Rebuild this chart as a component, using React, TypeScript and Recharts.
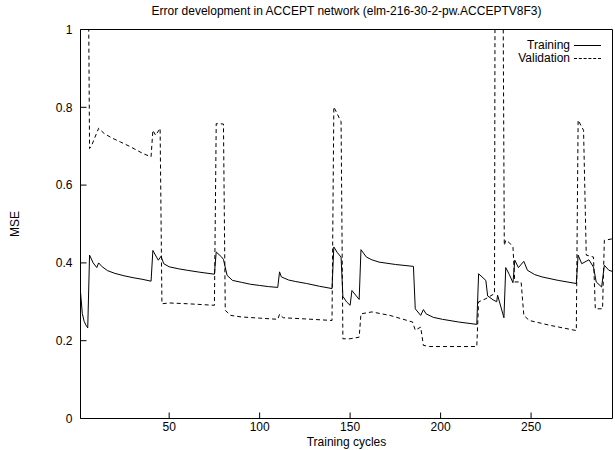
import React from 'react';
import { LineChart, Line, XAxis, YAxis, Legend } from 'recharts';

const TITLE = 'Error development in ACCEPT network (elm-216-30-2-pw.ACCEPTV8F3)';
const X_TICKS = [50, 100, 150, 200, 250];
const Y_TICKS = [0, 0.2, 0.4, 0.6, 0.8, 1];

const trainX = [1, 2, 3, 4, 5, 6, 8, 10, 11, 13, 16, 20, 25, 30, 35, 40, 41, 43, 44, 45.5, 47, 50, 55, 60, 67, 75, 76, 79, 80, 82, 85, 90, 95, 100, 105, 110, 111, 112, 116, 120, 126, 133, 140, 141, 143, 145, 146, 148, 150, 151, 155, 156, 159, 162, 166, 175, 185, 186, 189, 190.5, 192, 196, 201, 210, 220, 221, 225, 226, 229, 231, 231.5, 235, 236, 238, 240, 241, 243, 246, 248, 252, 256, 265, 275, 276, 278, 282, 284.5, 286, 289, 290.5, 293, 295];
const trainY = [0.325, 0.27, 0.25, 0.24, 0.233, 0.42, 0.4, 0.388, 0.4, 0.39, 0.38, 0.373, 0.367, 0.362, 0.358, 0.353, 0.432, 0.415, 0.407, 0.417, 0.398, 0.39, 0.385, 0.381, 0.376, 0.371, 0.428, 0.415, 0.409, 0.368, 0.355, 0.35, 0.345, 0.342, 0.339, 0.337, 0.377, 0.364, 0.356, 0.352, 0.347, 0.34, 0.334, 0.441, 0.426, 0.415, 0.314, 0.3, 0.291, 0.329, 0.306, 0.434, 0.415, 0.408, 0.402, 0.396, 0.391, 0.282, 0.265, 0.28, 0.269, 0.26, 0.255, 0.248, 0.242, 0.372, 0.355, 0.315, 0.305, 0.3, 0.317, 0.259, 0.388, 0.37, 0.349, 0.407, 0.388, 0.404, 0.381, 0.37, 0.364, 0.355, 0.347, 0.42, 0.398, 0.408, 0.389, 0.351, 0.338, 0.394, 0.381, 0.378];

const validX = [1, 5, 6, 7, 11, 14, 18, 23, 28, 32, 36, 40, 41, 42.5, 45, 46, 50, 60, 75, 76, 80, 81, 84, 90, 100, 110, 111, 113, 125, 140, 141, 145, 146, 150, 155, 156, 162, 172, 184.5, 186, 189, 190.5, 194, 220, 221, 225, 229.8, 230.2, 234.2, 235.2, 236, 238, 240, 241, 244.5, 246, 249, 260, 275, 276, 279, 280.5, 284.5, 285.5, 289.5, 290.5, 295];
const validY = [1.4, 1.4, 0.694, 0.7, 0.746, 0.733, 0.722, 0.711, 0.7, 0.69, 0.68, 0.673, 0.741, 0.728, 0.746, 0.295, 0.297, 0.295, 0.291, 0.758, 0.757, 0.278, 0.265, 0.261, 0.258, 0.255, 0.268, 0.259, 0.256, 0.252, 0.801, 0.763, 0.205, 0.205, 0.209, 0.269, 0.274, 0.265, 0.248, 0.227, 0.235, 0.188, 0.185, 0.185, 0.3, 0.308, 0.321, 1.4, 1.4, 0.445, 0.458, 0.452, 0.44, 0.351, 0.351, 0.265, 0.252, 0.24, 0.226, 0.767, 0.741, 0.42, 0.415, 0.282, 0.282, 0.458, 0.462];

const trainData = trainX.map((x, i) => ({ x, y: trainY[i] }));
const validData = validX.map((x, i) => ({ x, y: validY[i] }));

const FONT = '"Liberation Sans", Arial, Helvetica, sans-serif';
const X_DOMAIN: [number, number] = [1, 295];
const Y_DOMAIN: [number, number] = [0, 1];

const tickStyle = { fontSize: 12, fill: '#000', fontFamily: FONT };
const lineStyle = { stroke: '#000', strokeWidth: 1 };

const LegendContent = () => (
  <div style={{ fontFamily: FONT, fontSize: 12, color: '#000', lineHeight: '13px' }}>
    <div style={{ display: 'flex', alignItems: 'center', height: 13 }}>
      <span style={{ width: 90, textAlign: 'right' }}>Training</span>
      <span style={{ display: 'inline-block', marginLeft: 4, width: 27, height: 0, borderTop: '1px solid #000' }} />
    </div>
    <div style={{ display: 'flex', alignItems: 'center', height: 13 }}>
      <span style={{ width: 90, textAlign: 'right' }}>Validation</span>
      <span style={{ display: 'inline-block', marginLeft: 4, width: 27, height: 0, borderTop: '1px dashed #000' }} />
    </div>
  </div>
);

export default function App() {
  return (
    <div style={{ position: 'absolute', left: 0, top: 0, width: 615, height: 450 }}>
      <div
        style={{
          position: 'absolute',
          left: 80,
          width: 533,
          top: 4,
          textAlign: 'center',
          fontSize: 12,
          lineHeight: '14px',
          color: '#000',
          fontFamily: FONT,
        }}
      >
        {TITLE}
      </div>
      <LineChart width={615} height={450} margin={{ top: 28.5, right: 1.5, bottom: 0, left: 0 }}>
        <XAxis
          type="number"
          dataKey="x"
          domain={X_DOMAIN}
          ticks={X_TICKS}
          allowDataOverflow
          height={31.5}
          tickSize={-6}
          tickMargin={10}
          tick={tickStyle}
          axisLine={lineStyle}
          tickLine={lineStyle}
          label={{ value: 'Training cycles', position: 'insideBottom', offset: 4, style: { fontSize: 12, fill: '#000', fontFamily: FONT } }}
        />
        <XAxis
          xAxisId="top"
          orientation="top"
          type="number"
          dataKey="x"
          domain={X_DOMAIN}
          ticks={X_TICKS}
          allowDataOverflow
          height={1}
          tickSize={-6}
          tick={false}
          axisLine={lineStyle}
          tickLine={lineStyle}
        />
        <YAxis
          type="number"
          domain={Y_DOMAIN}
          ticks={Y_TICKS}
          allowDataOverflow
          width={80.5}
          tickSize={-6}
          tickMargin={14}
          tick={tickStyle}
          axisLine={lineStyle}
          tickLine={lineStyle}
          label={{ value: 'MSE', angle: -90, position: 'insideLeft', offset: 15, style: { fontSize: 12, fill: '#000', fontFamily: FONT, textAnchor: 'middle' } }}
        />
        <YAxis
          yAxisId="right"
          orientation="right"
          type="number"
          domain={Y_DOMAIN}
          ticks={Y_TICKS}
          allowDataOverflow
          width={1}
          tickSize={-6}
          tick={false}
          axisLine={lineStyle}
          tickLine={lineStyle}
        />
        <Legend
          layout="vertical"
          align="center"
          verticalAlign="middle"
          content={<LegendContent />}
          wrapperStyle={{ position: 'absolute', left: 480, top: 38.5, width: 130, height: 26 }}
        />
        <Line
          data={trainData}
          dataKey="y"
          name="Training"
          type="linear"
          stroke="#000"
          strokeWidth={1}
          dot={false}
          activeDot={false}
          isAnimationActive={false}
        />
        <Line
          data={validData}
          dataKey="y"
          name="Validation"
          type="linear"
          stroke="#000"
          strokeWidth={1}
          strokeDasharray="4 3"
          dot={false}
          activeDot={false}
          isAnimationActive={false}
        />
      </LineChart>
    </div>
  );
}
